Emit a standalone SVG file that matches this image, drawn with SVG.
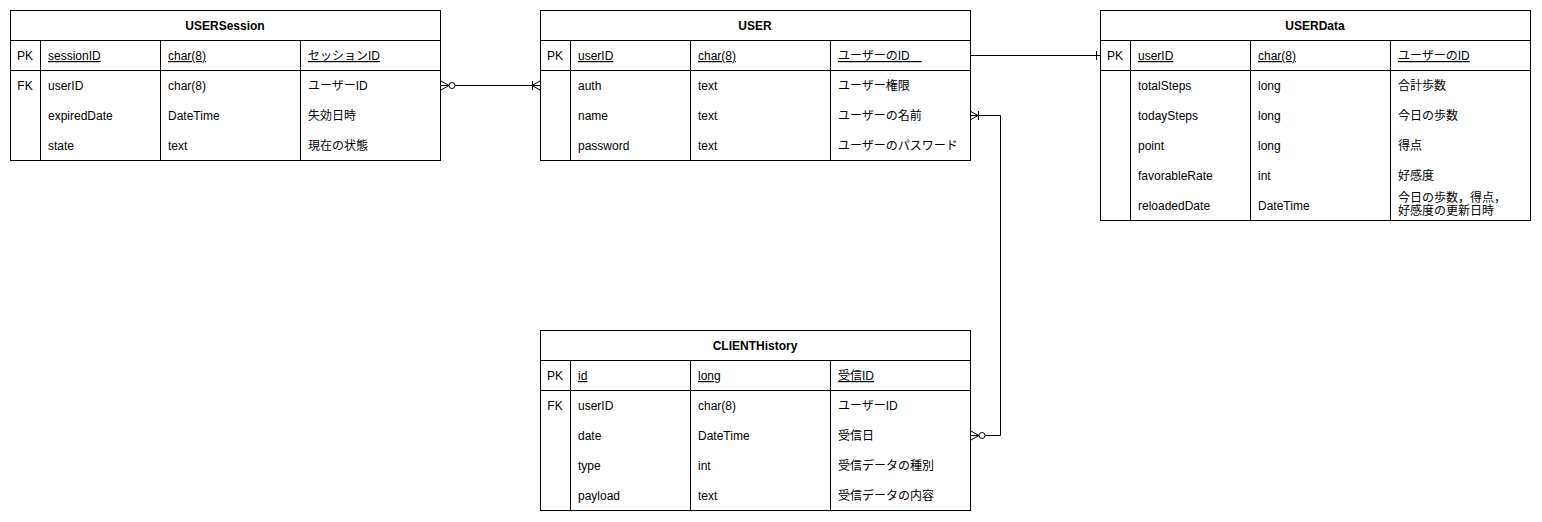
<svg xmlns="http://www.w3.org/2000/svg" width="1542" height="522" viewBox="0 0 1542 522">
<style>
.bg{fill:#ffffff}
.box{fill:#ffffff;stroke:#000000;stroke-width:1}
.ln{stroke:#000000;stroke-width:1;fill:none}
text{font-family:"Liberation Sans","Noto Sans CJK JP",Arial,sans-serif;font-size:12px;fill:#000000}
.t{font-weight:bold;text-anchor:middle}
.k{text-anchor:middle}
.u{text-decoration:underline}
.end{stroke:#000000;stroke-width:1;fill:none}
.circ{stroke:#000000;stroke-width:1;fill:#ffffff}
</style>
<rect class="bg" x="0" y="0" width="1542" height="522"/>

<g id="USERSession">
<rect class="box" x="10.5" y="10.5" width="430" height="150"/>
<path class="ln" d="M10.5 40.5H440.5M10.5 70.5H440.5M40.5 40.5V160.5M160.5 40.5V160.5M300.5 40.5V160.5"/>
<text class="t" x="225" y="30">USERSession</text>
<text class="k" x="25" y="60">PK</text>
<text class="u" x="48" y="60">sessionID</text>
<text class="u" x="168" y="60">char(8)</text>
<text class="u" x="308" y="60">セッションID</text>
<text class="k" x="25" y="90">FK</text>
<text x="48" y="90">userID</text>
<text x="168" y="90">char(8)</text>
<text x="308" y="90">ユーザーID</text>
<text x="48" y="120">expiredDate</text>
<text x="168" y="120">DateTime</text>
<text x="308" y="120">失効日時</text>
<text x="48" y="150">state</text>
<text x="168" y="150">text</text>
<text x="308" y="150">現在の状態</text>
</g>

<g id="USER">
<rect class="box" x="540.5" y="10.5" width="430" height="150"/>
<path class="ln" d="M540.5 40.5H970.5M540.5 70.5H970.5M570.5 40.5V160.5M690.5 40.5V160.5M830.5 40.5V160.5"/>
<text class="t" x="755" y="30">USER</text>
<text class="k" x="555" y="60">PK</text>
<text class="u" x="578" y="60">userID</text>
<text class="u" x="698" y="60">char(8)</text>
<text class="u" x="838" y="60">ユーザーのID　</text>
<text x="578" y="90">auth</text>
<text x="698" y="90">text</text>
<text x="838" y="90">ユーザー権限</text>
<text x="578" y="120">name</text>
<text x="698" y="120">text</text>
<text x="838" y="120">ユーザーの名前</text>
<text x="578" y="150">password</text>
<text x="698" y="150">text</text>
<text x="838" y="150">ユーザーのパスワード</text>
</g>

<g id="USERData">
<rect class="box" x="1100.5" y="10.5" width="430" height="210"/>
<path class="ln" d="M1100.5 40.5H1530.5M1100.5 70.5H1530.5M1130.5 40.5V220.5M1250.5 40.5V220.5M1390.5 40.5V220.5"/>
<text class="t" x="1315" y="30">USERData</text>
<text class="k" x="1115" y="60">PK</text>
<text class="u" x="1138" y="60">userID</text>
<text class="u" x="1258" y="60">char(8)</text>
<text class="u" x="1398" y="60">ユーザーのID</text>
<text x="1138" y="90">totalSteps</text>
<text x="1258" y="90">long</text>
<text x="1398" y="90">合計歩数</text>
<text x="1138" y="120">todaySteps</text>
<text x="1258" y="120">long</text>
<text x="1398" y="120">今日の歩数</text>
<text x="1138" y="150">point</text>
<text x="1258" y="150">long</text>
<text x="1398" y="150">得点</text>
<text x="1138" y="180">favorableRate</text>
<text x="1258" y="180">int</text>
<text x="1398" y="180">好感度</text>
<text x="1138" y="210">reloadedDate</text>
<text x="1258" y="210">DateTime</text>
<text x="1398" y="202">今日の歩数，得点，</text>
<text x="1398" y="215">好感度の更新日時</text>
</g>

<g id="CLIENTHistory">
<rect class="box" x="540.5" y="330.5" width="430" height="180"/>
<path class="ln" d="M540.5 360.5H970.5M540.5 390.5H970.5M570.5 360.5V510.5M690.5 360.5V510.5M830.5 360.5V510.5"/>
<text class="t" x="755" y="350">CLIENTHistory</text>
<text class="k" x="555" y="380">PK</text>
<text class="u" x="578" y="380">id</text>
<text class="u" x="698" y="380">long</text>
<text class="u" x="838" y="380">受信ID</text>
<text class="k" x="555" y="410">FK</text>
<text x="578" y="410">userID</text>
<text x="698" y="410">char(8)</text>
<text x="838" y="410">ユーザーID</text>
<text x="578" y="440">date</text>
<text x="698" y="440">DateTime</text>
<text x="838" y="440">受信日</text>
<text x="578" y="470">type</text>
<text x="698" y="470">int</text>
<text x="838" y="470">受信データの種別</text>
<text x="578" y="500">payload</text>
<text x="698" y="500">text</text>
<text x="838" y="500">受信データの内容</text>
</g>

<g id="connectors">
<path class="ln" d="M455 85.5H540"/>
<path class="end" d="M441 81L449 85.5L441 90M441 85.5H449"/>
<circle class="circ" cx="452" cy="85.5" r="3"/>
<path class="end" d="M540 81L532 85.5L540 90M532.5 81V90"/>
<path class="ln" d="M970 55.5H1100"/>
<path class="end" d="M1096.5 51V60"/>
<path class="ln" d="M970 115.5H1000.5V435.5H985"/>
<path class="end" d="M970 111L978 115.5L970 120M970 115.5H978M978.5 111V120"/>
<path class="end" d="M971 431L979 435.5L971 440M971 435.5H979"/>
<circle class="circ" cx="982" cy="435.5" r="3"/>
</g>
</svg>
